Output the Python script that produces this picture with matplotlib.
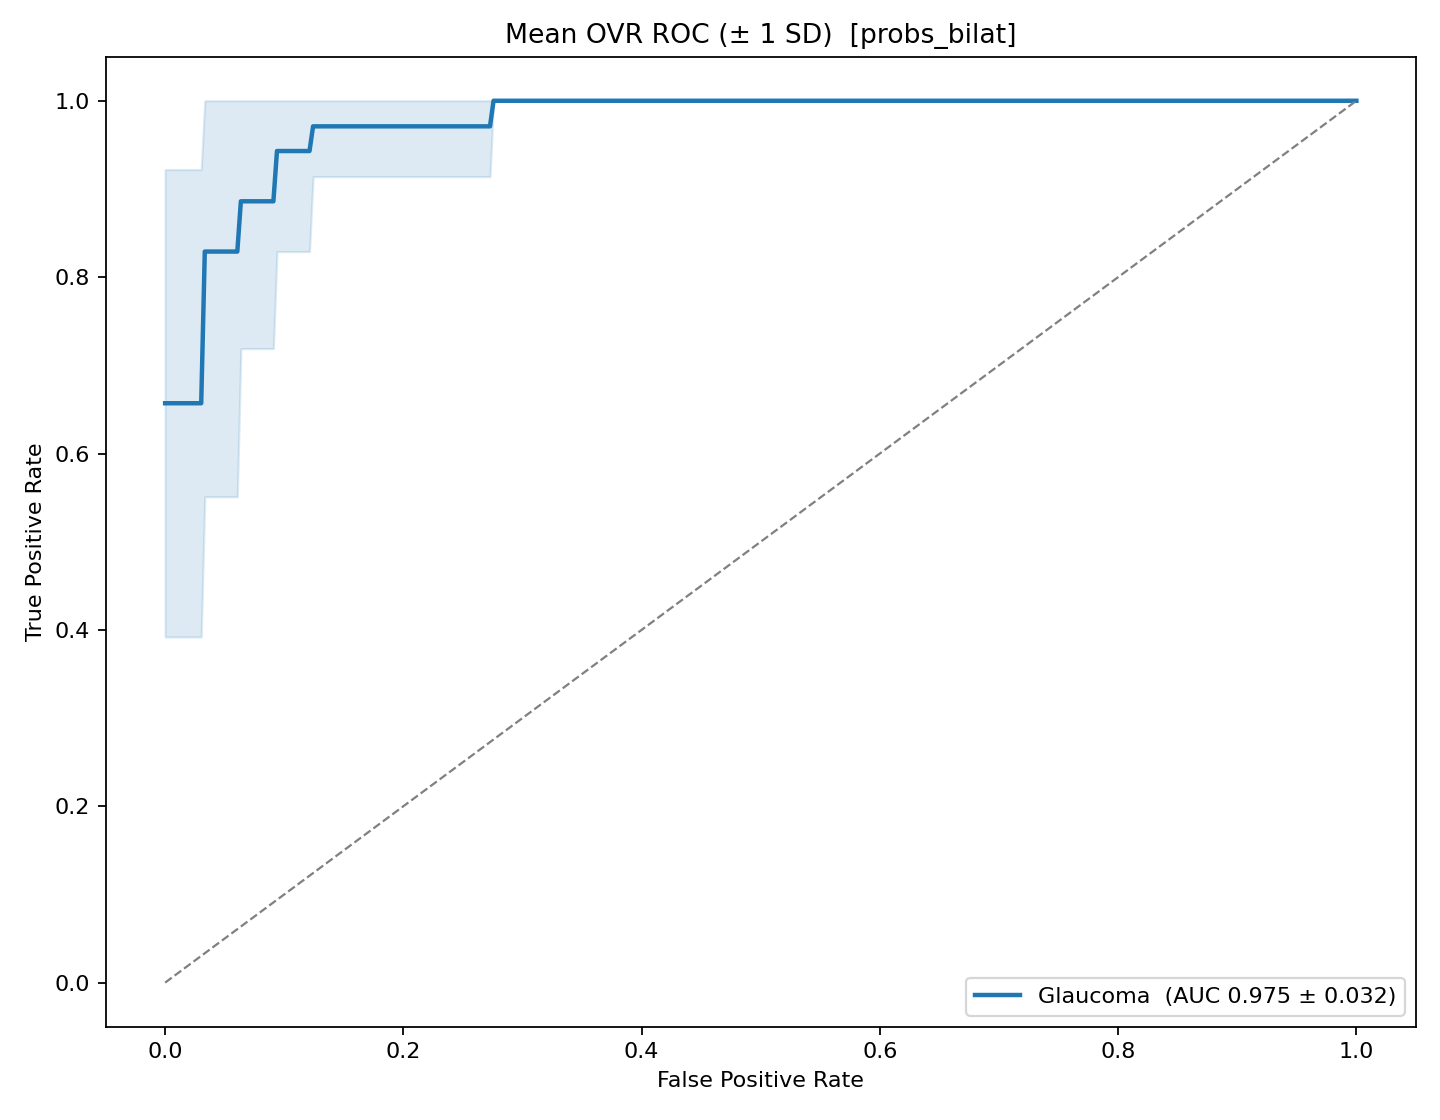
import numpy as np
import matplotlib
matplotlib.use("Agg")
import matplotlib.pyplot as plt

# Mean ROC (interpolated grid)
mean_fpr = [0.0, 0.0303, 0.0333, 0.0606, 0.0636, 0.0909, 0.0939,
            0.1212, 0.1242, 0.2727, 0.2757, 1.0]
mean_tpr = [0.657, 0.657, 0.829, 0.829, 0.886, 0.886, 0.943,
            0.943, 0.971, 0.971, 1.0, 1.0]
tpr_upper = [0.922, 0.922, 1.0, 1.0, 1.0, 1.0, 1.0,
             1.0, 1.0, 1.0, 1.0, 1.0]
tpr_lower = [0.392, 0.392, 0.551, 0.551, 0.719, 0.719, 0.829,
             0.829, 0.914, 0.914, 1.0, 1.0]

class_name = "Glaucoma"
auc_mean = 0.975
auc_sd = 0.032

fig, ax = plt.subplots(figsize=(9, 7), dpi=160)

ax.plot(mean_fpr, mean_tpr, color="#1f77b4", lw=2,
        label=f"{class_name}  (AUC {auc_mean:.3f} ± {auc_sd:.3f})")
ax.fill_between(mean_fpr, tpr_lower, tpr_upper, color="#1f77b4", alpha=0.15)
ax.plot([0, 1], [0, 1], "--", color="gray", lw=1)

ax.set_xlabel("False Positive Rate")
ax.set_ylabel("True Positive Rate")
ax.set_title("Mean OVR ROC (± 1 SD)  [probs_bilat]")
ax.legend(loc="lower right")

fig.subplots_adjust(left=0.0733, right=0.9833, top=0.9494, bottom=0.0833)
plt.savefig("out.png", dpi=160)
